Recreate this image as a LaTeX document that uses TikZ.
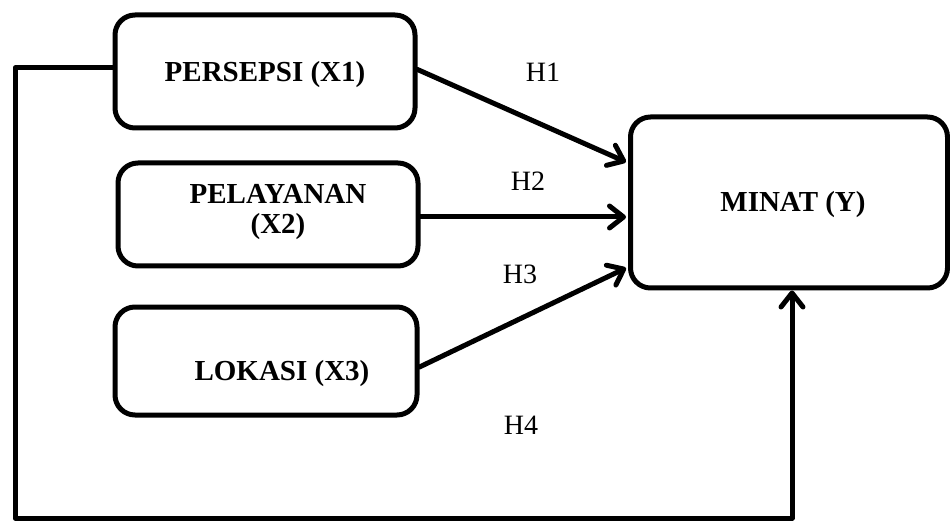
\documentclass[tikz,border=0pt]{standalone}
\usepackage{fontspec}
\setmainfont{Liberation Serif}
\usetikzlibrary{arrows.meta,calc}
\begin{document}
\begin{tikzpicture}[x=1pt,y=-1pt,
  varbox/.style={draw, line width=5pt, rounded corners=20pt, fill=white},
  boxtext/.style={font=\fontsize{29}{29}\selectfont\bfseries, inner sep=0pt, align=center},
  hyp/.style={font=\fontsize{28}{28}\selectfont, inner sep=0pt},
  link/.style={line width=5pt, line cap=round, line join=round},
  arr/.style={link, -{Straight Barb[length=14pt,width=22pt,line cap=round,line join=round]}}
]
\useasboundingbox (0,0) rectangle (950,521);

% variable boxes
\node[varbox, minimum width=300pt, minimum height=113pt] (X1) at (265,71.5) {};
\node[varbox, minimum width=300pt, minimum height=103pt] (X2) at (268,214.5) {};
\node[varbox, minimum width=302pt, minimum height=108pt] (X3) at (266,361) {};
\node[varbox, minimum width=317pt, minimum height=171pt] (Y) at (789,202.5) {};

% box captions
\node[boxtext] (tX1) at ($(X1.center)+(0,3)$) {PERSEPSI (X1)};
\node[boxtext, font=\fontsize{29}{30}\selectfont\bfseries] (tX2) at ($(X2.center)+(10,-2)$) {PELAYANAN\\(X2)};
\node[boxtext] (tX3) at ($(X3.center)+(16,13)$) {LOKASI (X3)};
\node[boxtext] (tY) at ($(Y.center)+(4,2)$) {MINAT (Y)};

% arrow end points on the left side of Y
\coordinate (e1) at ($(Y.west)+(-2,-40.5)$);
\coordinate (e2) at ($(Y.west)+(-2,14.5)$);
\coordinate (e3) at ($(Y.west)+(-2,65.5)$);

% direct paths
\draw[arr] ($(X1.east)+(0,-2)$) -- (e1);
\draw[arr] (X2.east |- e2) -- (e2);
\draw[arr] ($(X3.east)+(0,6)$) -- (e3);

% joint path from X1 around the bottom into Y
\coordinate (fbTop) at (15,68);
\coordinate (fbBot) at (15,518);
\coordinate (fbEnd) at ($(Y.south)+(3,0)$);
\draw[arr] (X1.west |- fbTop) -- (fbTop) -- (fbBot) -| (fbEnd);

% hypothesis labels
\node[hyp] (H1) at (543,72) {H1};
\node[hyp] (H2) at (528,181) {H2};
\node[hyp] (H3) at (520,274) {H3};
\node[hyp] (H4) at (521,425) {H4};
\end{tikzpicture}
\end{document}
